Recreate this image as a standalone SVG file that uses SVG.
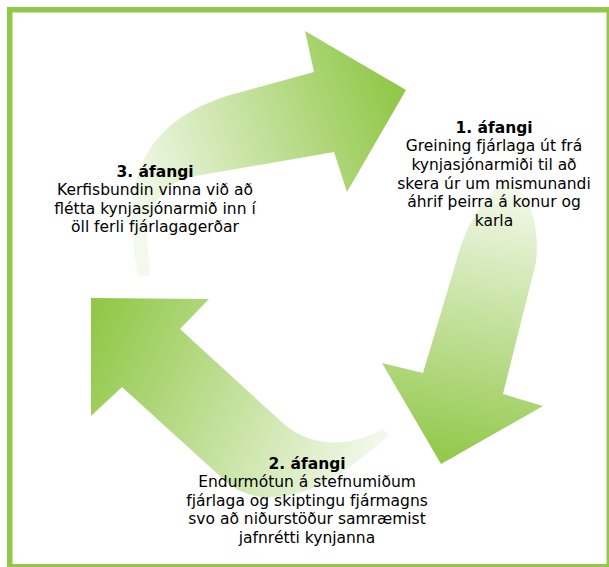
<svg xmlns="http://www.w3.org/2000/svg" width="609" height="567" viewBox="0 0 609 567">
  <style>
    text { font-family: "DejaVu Sans", Verdana, sans-serif; font-size: 15.5px; fill: #000; text-anchor: middle; }
    .t { font-weight: bold; }
  </style>
  <defs>
    <linearGradient id="gTop" gradientUnits="userSpaceOnUse" x1="135" y1="200" x2="400" y2="110">
      <stop offset="0" stop-color="#f3f9ec"/>
      <stop offset="1" stop-color="#92c84a"/>
    </linearGradient>
    <linearGradient id="gRight" gradientUnits="userSpaceOnUse" x1="500" y1="185" x2="450" y2="462">
      <stop offset="0" stop-color="#f3f9ec"/>
      <stop offset="1" stop-color="#92c84a"/>
    </linearGradient>
    <linearGradient id="gBottom" gradientUnits="userSpaceOnUse" x1="385" y1="440" x2="100" y2="310">
      <stop offset="0" stop-color="#f3f9ec"/>
      <stop offset="1" stop-color="#92c84a"/>
    </linearGradient>
  </defs>
  <rect x="0" y="0" width="609" height="567" fill="#ffffff"/>
  <rect id="frame" x="9.75" y="9.75" width="599.5" height="557" fill="#ffffff" stroke="#92c84a" stroke-width="5.5"/>
  <g id="connectors">
    <path id="arrow-3-1" fill="url(#gTop)" d="M138,277 C132,240 128,205 136,180 C148,140 175,112 230,95 L314,72 L305,31 L406,90 L347,192 L334,152 L190,177 C160,185 147,210 147,240 L150,275 Z"/>
    <path id="arrow-1-2" fill="url(#gRight)" d="M500,185 L510,181 C530,195 540,225 536,262 L503,394 L543,406 L441,464 L382,363 L423,373 L456,262 C465,228 480,202 500,185 Z"/>
    <path id="arrow-2-3" fill="url(#gBottom)" d="M91,298 L209,299 L180,329 L285,425 C310,445 345,450 383,429 L389,435 C350,470 310,500 262,497 C245,495 232,488 222,478 L122,387 L91,416 Z"/>
  </g>
  <g id="stage1">
    <text class="t" x="494" y="132.7">1. áfangi</text>
    <text x="494" y="151.3">Greining fjárlaga út frá</text>
    <text x="494" y="169.9">kynjasjónarmiði til að</text>
    <text x="494" y="188.5">skera úr um mismunandi</text>
    <text x="494" y="207.1">áhrif þeirra á konur og</text>
    <text x="494" y="225.7">karla</text>
  </g>
  <g id="stage3">
    <text class="t" x="155" y="176.7">3. áfangi</text>
    <text x="155" y="195.2">Kerfisbundin vinna við að</text>
    <text x="155" y="213.7">flétta kynjasjónarmið inn í</text>
    <text x="155" y="232.2">öll ferli fjárlagagerðar</text>
  </g>
  <g id="stage2">
    <text class="t" x="307" y="468.5">2. áfangi</text>
    <text x="307" y="487.1">Endurmótun á stefnumiðum</text>
    <text x="307" y="505.7">fjárlaga og skiptingu fjármagns</text>
    <text x="307" y="524.3">svo að niðurstöður samræmist</text>
    <text x="307" y="542.9">jafnrétti kynjanna</text>
  </g>
</svg>
